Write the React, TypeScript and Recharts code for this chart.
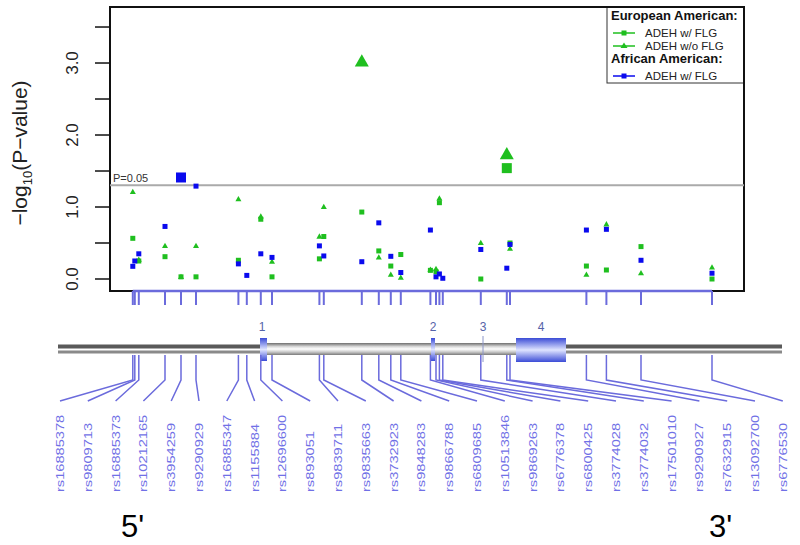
import {
  ComposedChart,
  Scatter,
  XAxis,
  YAxis,
  ReferenceLine,
} from "recharts";

// SNPs along the gene (position in kb from region start)
const snpIds = [
  "rs16885378", "rs9809713", "rs16885373", "rs10212165", "rs3954259",
  "rs9290929", "rs16885347", "rs1155884", "rs12696600", "rs893051",
  "rs9839711", "rs9835663", "rs3732923", "rs9848283", "rs9866788",
  "rs6809685", "rs10513846", "rs9869263", "rs6776378", "rs6800425",
  "rs3774028", "rs3774032", "rs17501010", "rs9290927", "rs7632915",
  "rs13092700", "rs6776530",
];
const snpPos = [
  11.4, 12.4, 14.4, 27.5, 35.5, 43, 64.2, 68.4, 75.4, 81, 104.7, 106.9,
  125.9, 134.4, 140.4, 145.4, 160.2, 163, 164.7, 166.4, 185.4, 198.4, 200,
  238.2, 248.2, 265.5, 301,
];

// -log10(P) per SNP, null = not shown
const eaWithFlg = [
  0.565, null, 0.25, 0.31, 0.03, 0.03, 0.26, null, 0.83, 0.03, 0.28, 0.59,
  0.93, 0.39, 0.18, 0.34, 0.12, 0.1, 1.06, null, 0.0, 1.54, 0.5, 0.18,
  0.125, 0.45, 0.0,
];
const eaWithoutFlg = [
  1.21, null, 0.27, 0.46, 0.03, 0.46, 1.11, null, 0.87, 0.24, 0.59, 1.0,
  3.02, 0.3, 0.06, 0.02, 0.13, 0.14, 1.12, null, 0.5, 1.73, 0.42, 0.06,
  0.76, 0.08, 0.16,
];
const aaWithFlg = [
  0.176, 0.25, 0.35, 0.73, 1.41, 1.29, 0.21, 0.05, 0.35, 0.3, 0.46, 0.32,
  0.24, 0.78, 0.315, 0.09, 0.68, 0.03, 0.07, 0.01, 0.41, 0.15, 0.48, 0.68,
  0.69, 0.26, 0.08,
];

const yTicks = [0, 0.5, 1, 1.5, 2, 2.5, 3, 3.5];
const yLabelTicks = [0, 1, 2, 3];
const Y_DOMAIN = [-0.1667, 3.778];

const P_LINE = -Math.log10(0.05);
const GREEN = "#1fbf1f";
const BLUE = "#0a0aee";
const LINK = "#6b6bdc";
const FONT = "'Liberation Sans', Arial, sans-serif";

const toPoints = (vals: (number | null)[]) =>
  vals
    .map((v, i) => (v == null ? null : { pos: snpPos[i], v }))
    .filter(Boolean) as { pos: number; v: number }[];

const Square = (props: any) => {
  const { cx, cy, payload, fill } = props;
  const s = payload.v > P_LINE ? 10 : 5;
  return <rect x={cx - s / 2} y={cy - s / 2} width={s} height={s} fill={fill} />;
};

const Triangle = (props: any) => {
  const { cx, cy, payload, fill } = props;
  const w = payload.v > P_LINE ? 14 : 6;
  const h = w * 0.88;
  return (
    <polygon
      points={`${cx},${cy - h * 0.6} ${cx - w / 2},${cy + h * 0.4} ${cx + w / 2},${cy + h * 0.4}`}
      fill={fill}
    />
  );
};

// rotated y labels, only on whole numbers
const YTick = (props: any) => {
  const { y, payload } = props;
  if (!yLabelTicks.includes(payload.value)) return <g />;
  return (
    <text
      transform={`translate(78,${y}) rotate(-90)`}
      textAnchor="middle"
      fontSize={17}
      fill="#222"
      fontFamily={FONT}
    >
      {payload.value.toFixed(1)}
    </text>
  );
};

// tick under the plot + connector from gene to the rotated SNP name
const SnpTick = (props: any) => {
  const { x, payload } = props;
  const i = snpPos.indexOf(payload.value);
  const lx = 60 + i * 27.8;
  return (
    <g>
      <line x1={x} y1={291} x2={x} y2={305} stroke={LINK} strokeWidth={2} />
      <polyline
        points={`${x},355 ${x},380 ${lx},401`}
        fill="none"
        stroke={LINK}
        strokeWidth={1.5}
      />
      <text
        transform={`translate(${lx + 4},492) rotate(-90) scale(1.33,1)`}
        fontSize={11}
        fill="#7070e6"
        fontFamily={FONT}
      >
        {snpIds[i]}
      </text>
    </g>
  );
};

// static drawing behind the chart: frame, titles, legend, gene structure
function Backdrop() {
  return (
    <svg
      width={800}
      height={545}
      style={{ position: "absolute", left: 0, top: 0 }}
      fontFamily={FONT}
    >
      <defs>
        <linearGradient id="tube" x1="0" y1="0" x2="0" y2="1">
          <stop offset="0" stopColor="#6e6e6e" />
          <stop offset="0.3" stopColor="#d8d8d8" />
          <stop offset="0.5" stopColor="#ffffff" />
          <stop offset="0.75" stopColor="#c8c8c8" />
          <stop offset="1" stopColor="#7a7a7a" />
        </linearGradient>
        <linearGradient id="exon" x1="0" y1="0" x2="0" y2="1">
          <stop offset="0" stopColor="#3b4cd6" />
          <stop offset="0.5" stopColor="#dfe4ff" />
          <stop offset="1" stopColor="#3b4cd6" />
        </linearGradient>
      </defs>
      <rect x={0} y={0} width={800} height={545} fill="#fff" />

      {/* y axis title */}
      <text transform="translate(27,153) rotate(-90)" textAnchor="middle" fontSize={21} fill="#222">
        −log
        <tspan fontSize={13} dy={5}>10</tspan>
        <tspan dy={-5}>(P−value)</tspan>
      </text>

      {/* legend */}
      <rect x={607} y={7} width={137} height={76} fill="#fff" stroke="#333" strokeWidth={1} />
      <text x={611} y={20} fontSize={13} fontWeight="bold" fill="#111">European American:</text>
      <line x1={613} y1={33} x2={635} y2={33} stroke={GREEN} strokeWidth={1.5} />
      <rect x={621.5} y={30.5} width={5} height={5} fill={GREEN} />
      <text x={645} y={37} fontSize={11.5} fill="#222">ADEH w/ FLG</text>
      <line x1={613} y1={46} x2={635} y2={46} stroke={GREEN} strokeWidth={1.5} />
      <polygon points="624,42.5 620.5,48 627.5,48" fill={GREEN} />
      <text x={645} y={50} fontSize={11.5} fill="#222">ADEH w/o FLG</text>
      <text x={611} y={63} fontSize={13} fontWeight="bold" fill="#111">African American:</text>
      <line x1={613} y1={76} x2={635} y2={76} stroke={BLUE} strokeWidth={1.5} />
      <rect x={621.5} y={73.5} width={5} height={5} fill={BLUE} />
      <text x={645} y={80} fontSize={11.5} fill="#222">ADEH w/ FLG</text>

      {/* plot frame */}
      <rect x={110} y={7} width={634} height={284} fill="none" stroke="#111" strokeWidth={2} />

      {/* gene structure */}
      <rect x={58} y={344.5} width={203} height={4} fill="#5a5a5a" />
      <rect x={58} y={350.5} width={203} height={3} fill="#8a8a8a" />
      <rect x={565} y={344.5} width={217} height={4} fill="#5a5a5a" />
      <rect x={565} y={350.5} width={217} height={3} fill="#8a8a8a" />
      <rect x={266} y={343} width={251} height={12} fill="url(#tube)" />
      <rect x={260} y={338} width={7} height={23} fill="url(#exon)" />
      <rect x={431} y={338} width={4} height={23} fill="url(#exon)" />
      <line x1={483} y1={336} x2={483} y2={362} stroke="#8c96c8" strokeWidth={1} />
      <rect x={516} y={338} width={50} height={24} fill="url(#exon)" />
      <g fontSize={12} fill="#5563a8" textAnchor="middle">
        <text x={262} y={331}>1</text>
        <text x={433} y={331}>2</text>
        <text x={483} y={331}>3</text>
        <text x={541} y={331}>4</text>
      </g>

      <text x={121} y={537} fontSize={31} fill="#000">5'</text>
      <text x={709} y={537} fontSize={31} fill="#000">3'</text>
    </svg>
  );
}

export default function App() {
  return (
    <div style={{ position: "absolute", left: 0, top: 0, width: 800, height: 545 }}>
      <Backdrop />
      <div style={{ position: "absolute", left: 0, top: 0 }}>
        <ComposedChart
          width={800}
          height={545}
          margin={{ top: 7, right: 56, bottom: 0, left: 0 }}
          style={{ fontFamily: FONT }}
        >
          <XAxis
            type="number"
            dataKey="pos"
            domain={[0, 317]}
            ticks={snpPos}
            interval={0}
            axisLine={false}
            tickLine={false}
            tick={(p: any) => <SnpTick {...p} />}
            height={254}
          />
          <YAxis
            type="number"
            dataKey="v"
            domain={Y_DOMAIN}
            allowDataOverflow
            ticks={yTicks}
            width={110}
            tickSize={15}
            axisLine={false}
            tickLine={{ stroke: "#111", strokeWidth: 1.5 }}
            tick={(p: any) => <YTick {...p} />}
          />
          <ReferenceLine
            y={P_LINE}
            stroke="#aaaaaa"
            strokeWidth={2}
            label={{ value: "P=0.05", position: "insideBottomLeft", offset: 3, fill: "#333", fontSize: 11 }}
          />
          <ReferenceLine
            segment={[
              { x: snpPos[0], y: Y_DOMAIN[0] },
              { x: snpPos[snpPos.length - 1], y: Y_DOMAIN[0] },
            ]}
            stroke={LINK}
            strokeWidth={2.5}
            ifOverflow="visible"
          />
          <Scatter data={toPoints(eaWithFlg)} dataKey="v" fill={GREEN} shape={Square} isAnimationActive={false} />
          <Scatter data={toPoints(eaWithoutFlg)} dataKey="v" fill={GREEN} shape={Triangle} isAnimationActive={false} />
          <Scatter data={toPoints(aaWithFlg)} dataKey="v" fill={BLUE} shape={Square} isAnimationActive={false} />
        </ComposedChart>
      </div>
    </div>
  );
}
